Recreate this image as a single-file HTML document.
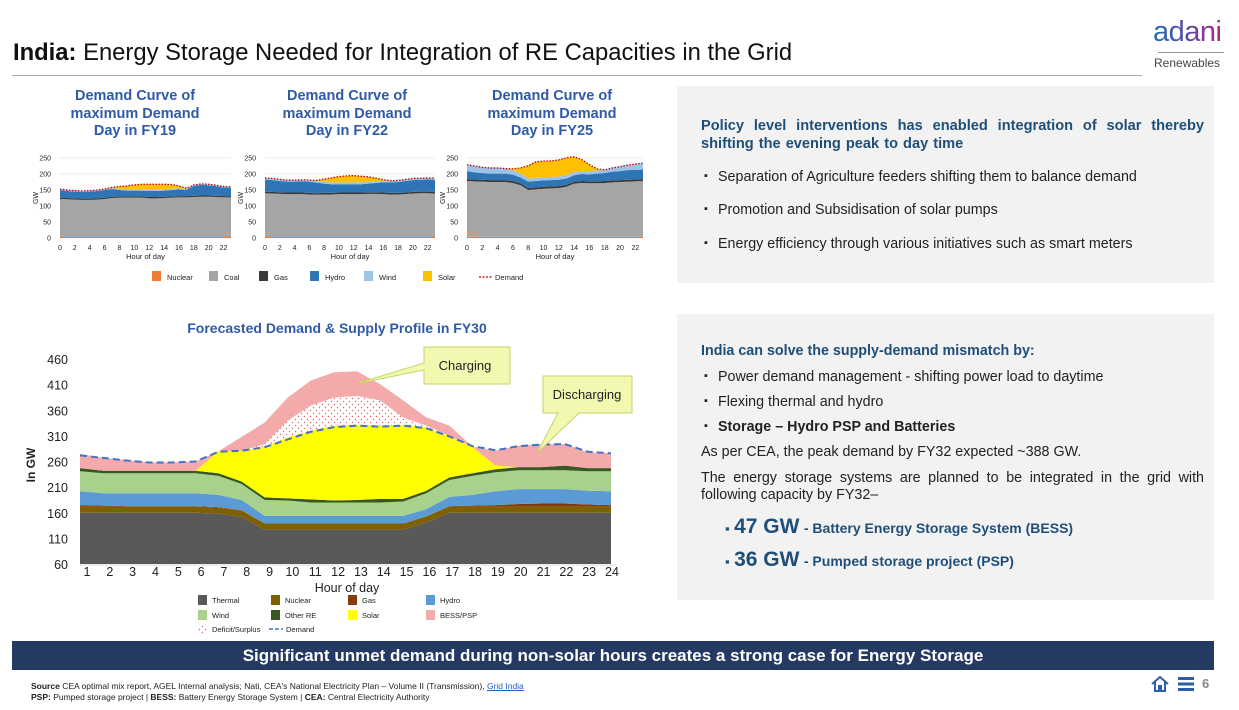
<!DOCTYPE html>
<html><head><meta charset="utf-8"><style>
*{margin:0;padding:0;box-sizing:border-box}
body{width:1239px;height:710px;background:#fff;font-family:"Liberation Sans",sans-serif;position:relative;overflow:hidden;color:#222}
.abs{position:absolute}
.panel{position:absolute;background:#f2f2f2}
.bh{color:#1f4e79;font-weight:bold;font-size:14px}
.txt{font-size:14.3px;color:#222;position:absolute;left:24px;right:10px}
.bul{position:absolute;left:29px;font-size:14.3px;color:#222}
.bul::before{content:"▪";position:absolute;left:-2px;font-size:11px;top:1px}
.bul span{margin-left:12px}
.ctitle{position:absolute;color:#2e5aa8;font-weight:bold;font-size:14.5px;text-align:center;line-height:17.5px;width:200px}
</style></head><body>
<div class="abs" style="left:13px;top:39px;font-size:23.8px;color:#111"><b>India:</b> Energy Storage Needed for Integration of RE Capacities in the Grid</div>
<div class="abs" style="left:12px;top:75px;width:1130px;height:1px;background:#aaa"></div>
<div class="abs" style="left:1153px;top:16px;font-size:29px;letter-spacing:-0.5px;background:linear-gradient(90deg,#1c6fb5,#5a4aa8,#b0287e);-webkit-background-clip:text;color:transparent">adani</div>
<div class="abs" style="left:1158px;top:52px;width:66px;height:1px;background:#999"></div>
<div class="abs" style="left:1154px;top:56px;font-size:12px;color:#444">Renewables</div>

<div class="ctitle" style="left:35px;top:88px">Demand Curve of<br>maximum Demand<br>Day in FY19</div>
<div class="ctitle" style="left:247px;top:88px">Demand Curve of<br>maximum Demand<br>Day in FY22</div>
<div class="ctitle" style="left:452px;top:88px">Demand Curve of<br>maximum Demand<br>Day in FY25</div>

<svg id="small" class="abs" style="left:0;top:150px" width="660" height="140"></svg>

<div class="abs" style="left:130px;top:320px;width:414px;text-align:center;color:#2e5aa8;font-weight:bold;font-size:14px">Forecasted Demand &amp; Supply Profile in FY30</div>
<svg id="main" class="abs" style="left:0;top:340px" width="660" height="300"></svg>

<div class="panel" style="left:677px;top:86px;width:537px;height:197px">
 <div class="bh abs" style="left:24px;top:31px;right:10px;font-size:14.6px;text-align:justify;text-align-last:left;line-height:18px;word-spacing:1px">Policy level interventions has enabled integration of solar thereby shifting the evening peak to day time</div>
 <div class="bul" style="top:83px"><span>Separation of Agriculture feeders shifting them to balance demand</span></div>
 <div class="bul" style="top:116px"><span>Promotion and Subsidisation of solar pumps</span></div>
 <div class="bul" style="top:150px"><span>Energy efficiency through various initiatives such as smart meters</span></div>
</div>
<div class="panel" style="left:677px;top:314px;width:537px;height:286px">
 <div class="bh abs" style="left:24px;top:29px;font-size:14.3px">India can solve the supply-demand mismatch by:</div>
 <div class="bul" style="top:55px"><span>Power demand management - shifting power load to daytime</span></div>
 <div class="bul" style="top:80px"><span>Flexing thermal and hydro</span></div>
 <div class="bul" style="top:105px"><span><b>Storage – Hydro PSP and Batteries</b></span></div>
 <div class="txt" style="top:130px">As per CEA, the peak demand by FY32 expected ~388 GW.</div>
 <div class="txt" style="top:156px;text-align:justify;text-align-last:left;line-height:17px">The energy storage systems are planned to be integrated in the grid with following capacity by FY32–</div>
 <div class="abs" style="left:48px;top:201px;color:#1f4e79;font-weight:bold"><span style="font-size:13px">▪</span>&nbsp;<span style="font-size:21px">47 GW</span> <span style="font-size:14px">- Battery Energy Storage System (BESS)</span></div>
 <div class="abs" style="left:48px;top:234px;color:#1f4e79;font-weight:bold"><span style="font-size:13px">▪</span>&nbsp;<span style="font-size:21px">36 GW</span> <span style="font-size:14px">- Pumped storage project (PSP)</span></div>
</div>

<div class="abs" style="left:12px;top:641px;width:1202px;height:29px;background:#253a63;color:#fff;font-weight:bold;font-size:17px;text-align:center;line-height:29px">Significant unmet demand during non-solar hours creates a strong case for Energy Storage</div>
<div class="abs" style="left:31px;top:681px;font-size:8.5px;color:#222"><b>Source</b> CEA optimal mix report, AGEL Internal analysis; Nati, CEA's National Electricity Plan – Volume II (Transmission), <span style="color:#1f5fbf;text-decoration:underline">Grid India</span></div>
<div class="abs" style="left:31px;top:692px;font-size:8.5px;color:#222"><b>PSP:</b> Pumped storage project | <b>BESS:</b> Battery Energy Storage System | <b>CEA:</b> Central Electricity Authority</div>
<svg class="abs" style="left:1151px;top:676px" width="18" height="16"><path d="M1 8 L9 1 L17 8 M4 6 V15 H8 V10 H10 V15 H14 V6" fill="none" stroke="#2d5fa8" stroke-width="2"/></svg>
<svg class="abs" style="left:1178px;top:677px" width="16" height="14"><rect y="0" width="16" height="3" fill="#2d5fa8"/><rect y="5.5" width="16" height="3" fill="#2d5fa8"/><rect y="11" width="16" height="3" fill="#2d5fa8"/></svg>
<div class="abs" style="left:1202px;top:676px;font-size:13px;font-weight:bold;color:#888">6</div>

<script>
// ---- small charts data ----
const smallHours=[0,1,2,3,4,5,6,7,8,9,10,11,12,13,14,15,16,17,18,19,20,21,22,23];
const smallTicksY=[0,50,100,150,200,250];
const smallTicksX=[0,2,4,6,8,10,12,14,16,18,20,22];
const fy19Nuclear=[3,3,3,3,3,3,3,3,3,3,3,3,3,3,3,3,3,3,3,3,3,3,3,3];
const fy19Coal=[119,118,117,116,116,117,119,122,123,123,123,123,121,121,122,123,124,124,125,126,126,125,124,124];
const fy19Gas=[4,4,4,4,4,4,4,4,4,4,4,4,4,4,4,4,4,4,4,4,4,4,4,4];
const fy19Hydro=[24,22,21,21,22,23,24,24,20,18,18,18,19,19,19,20,21,19,31,33,32,30,27,26];
const fy19Wind=[3,3,3,3,3,3,3,3,3,3,3,3,3,3,3,3,3,3,3,3,3,3,3,3];
const fy19Solar=[0,0,0,0,0,0,0,2,8,12,15,17,18,18,17,14,8,2,0,0,0,0,0,0];
const fy22Nuclear=[3,3,3,3,3,3,3,3,3,3,3,3,3,3,3,3,3,3,3,3,3,3,3,3];
const fy22Coal=[137,136,135,134,134,134,133,132,133,133,134,134,134,134,135,135,134,133,133,134,136,137,137,136];
const fy22Gas=[5,5,5,5,5,5,5,5,5,5,5,5,5,5,5,5,5,5,5,5,5,5,5,5];
const fy22Hydro=[38,37,35,34,34,35,35,33,29,27,26,26,26,26,27,29,32,33,34,36,37,37,38,38];
const fy22Wind=[5,5,5,5,5,5,5,5,6,6,6,6,6,6,6,6,5,5,5,5,5,5,5,5];
const fy22Solar=[0,0,0,0,0,0,0,2,8,14,18,20,21,19,15,9,3,0,0,0,0,0,0,0];
const fy25Nuclear=[4,4,4,4,4,4,4,4,4,4,4,4,4,4,4,4,4,4,4,4,4,4,4,4];
const fy25Coal=[174,173,172,171,171,171,168,161,146,148,150,151,152,156,166,168,167,167,168,170,171,172,173,174];
const fy25Gas=[6,6,6,6,6,6,6,6,6,6,6,6,6,6,6,6,6,6,6,6,6,6,6,6];
const fy25Hydro=[25,22,21,20,20,20,20,18,20,20,20,20,20,20,20,22,22,24,25,27,28,30,30,30];
const fy25Wind=[20,20,18,18,18,16,14,12,10,10,10,10,10,10,10,10,10,10,10,12,14,16,18,20];
const fy25Solar=[0,0,0,0,0,0,4,18,40,50,50,50,52,55,48,35,20,5,0,0,0,0,0,0];
const smallColors=['#ed7d31','#a5a5a5','#3a3a3a','#2e75b6','#9dc3e6','#ffc000'];
const smallLegend=['Nuclear','Coal','Gas','Hydro','Wind','Solar'];

// ---- main chart data ----
const hours=[1,2,3,4,5,6,7,8,9,10,11,12,13,14,15,16,17,18,19,20,21,22,23,24];
const mainTicksY=[60,110,160,210,260,310,360,410,460];
const thermal=[160,160,160,160,160,160,158,152,127,127,127,127,127,127,127,141,160,160,160,160,160,160,160,160];
const nuclear=[12,12,12,12,12,12,12,12,12,12,12,12,12,12,12,12,12,12,12,12,12,12,12,12];
const gas=[3,2,1,1,1,1,1,1,0,0,0,0,0,0,0,0,1,2,3,5,6,6,4,3];
const hydro=[27,24,25,25,25,25,24,20,15,15,15,15,15,15,15,14,18,21,27,29,28,28,27,27];
const wind=[39,39,39,39,39,39,37,31,31,30,26,26,26,26,28,31,33,37,37,37,37,37,38,39];
const otherRE=[6,5,5,5,5,5,5,5,5,4,6,4,5,7,5,5,5,5,6,6,6,9,6,6];
const solar=[0,0,0,0,0,0,43,60,99,119,134,146,147,143,144,124,81,51,7,0,0,0,0,0];
const surplus=[0,0,0,0,0,0,0,0,5,33,49,55,56,49,15,3,0,0,0,0,0,0,0,0];
const bess=[28,25,21,16,16,18,0,27,42,45,49,49,48,32,33,16,20,1,29,42,45,42,31,29];
const demand=[272,267,262,258,258,260,279,281,288,303,318,327,330,328,330,325,309,290,282,290,293,294,279,276];

const NS='http://www.w3.org/2000/svg';
function mk(parent,tag,attrs){const e=document.createElementNS(NS,tag);for(const k in attrs)e.setAttribute(k,attrs[k]);parent.appendChild(e);return e;}
function txt(parent,x,y,s,size,anchor,extra){const t=mk(parent,'text',Object.assign({x:x,y:y,'font-size':size,'text-anchor':anchor||'middle','font-family':'Liberation Sans, sans-serif',fill:'#222'},extra||{}));t.textContent=s;return t;}

// small charts
const small=document.getElementById('small');
function drawSmall(x0,x1,layers,name){
  const yB=88,yT=8;
  const xs=h=>x0+(h-smallHours[0])/(smallHours[smallHours.length-1]-smallHours[0])*(x1-x0);
  const ys=v=>yB-v/250*(yB-yT);
  const g=mk(small,'g',{});
  
  
  smallTicksY.forEach(v=>{mk(g,'line',{x1:x0,x2:x1,y1:ys(v),y2:ys(v),stroke:'#e4e4e4','stroke-width':0.8});txt(g,x0-9,ys(v)+2.5,String(v),7,'end');});
  const cum=smallHours.map(()=>0);
  layers.forEach((arr,li)=>{
    const lo=cum.slice();arr.forEach((v,i)=>cum[i]+=v);
    let d='M'+smallHours.map((h,i)=>xs(h)+','+ys(cum[i])).join(' L');
    for(let i=smallHours.length-1;i>=0;i--)d+=' L'+xs(smallHours[i])+','+ys(lo[i]);
    const p=mk(g,'path',{d:d+'Z',fill:smallColors[li]});
    
    
  });
  const dl=mk(g,'polyline',{points:smallHours.map((h,i)=>xs(h)+','+ys(cum[i])).join(' '),fill:'none',stroke:'#c00000','stroke-width':1.3,'stroke-dasharray':'1.5,1.5'});
  
  
  smallTicksX.forEach(h=>txt(g,xs(h),100,String(h),7));
  txt(g,(x0+x1)/2,109,'Hour of day',7.5);
  txt(g,0,0,'GW',7,'middle',{transform:'translate('+(x0-22)+','+ys(125)+') rotate(-90)'});
}
drawSmall(60,231,[fy19Nuclear,fy19Coal,fy19Gas,fy19Hydro,fy19Wind,fy19Solar],'fy19-chart');
drawSmall(265,435,[fy22Nuclear,fy22Coal,fy22Gas,fy22Hydro,fy22Wind,fy22Solar],'fy22-chart');
drawSmall(467,643,[fy25Nuclear,fy25Coal,fy25Gas,fy25Hydro,fy25Wind,fy25Solar],'fy25-chart');
const legX=[152,209,259,310,364,423];
smallLegend.forEach((n,i)=>{
  const r=mk(small,'rect',{x:legX[i],y:121,width:9,height:10,fill:smallColors[i]});
  
  
  txt(small,legX[i]+15,130,n,7.5,'start');
});
mk(small,'line',{x1:479,x2:492,y1:127,y2:127,stroke:'#c00000','stroke-width':1.2,'stroke-dasharray':'2,1.5'});
txt(small,495,130,'Demand',7.5,'start');

// main chart
const main=document.getElementById('main');
const pat=mk(main,'defs',{});
const pt=mk(pat,'pattern',{id:'dots',width:6,height:6,patternUnits:'userSpaceOnUse'});
mk(pt,'rect',{width:6,height:6,fill:'#fff'});
mk(pt,'circle',{cx:1.5,cy:1.5,r:0.7,fill:'#e06666'});
mk(pt,'circle',{cx:4.5,cy:4.5,r:0.7,fill:'#e06666'});
const MX0=80,MX1=611,MYB=224,MYT=19;
const X=h=>MX0+(h-hours[0])/(hours[hours.length-1]-hours[0])*(MX1-MX0);
const XL=h=>87+(h-hours[0])/(hours[hours.length-1]-hours[0])*(612-87);
const Y=v=>MYB-(v-mainTicksY[0])/(mainTicksY[mainTicksY.length-1]-mainTicksY[0])*(MYB-MYT);
mainTicksY.forEach(v=>txt(main,68,Y(v)+5,String(v),12.5,'end'));
hours.forEach(h=>txt(main,XL(h),236,String(h),12.5));
txt(main,347,252,'Hour of day',12.5);
txt(main,0,0,'In GW',12,'middle',{'font-weight':'bold',transform:'translate(35,125) rotate(-90)'});
const mainLayers=[['thermal',thermal,'#595959'],['nuclear',nuclear,'#7f6000'],['gas',gas,'#843c0c'],['hydro',hydro,'#5b9bd5'],['wind',wind,'#a9d18e'],['other-re',otherRE,'#385723'],['solar',solar,'#ffff00'],['surplus',surplus,'url(#dots)'],['bess-psp',bess,'#f4aaaa']];
const cumM=hours.map(()=>0);
mainLayers.forEach(([n,arr,c])=>{
  const lo=n==='thermal'?hours.map(()=>mainTicksY[0]):cumM.slice();
  arr.forEach((v,i)=>cumM[i]+=v);
  let d='M'+hours.map((h,i)=>X(h)+','+Y(cumM[i])).join(' L');
  for(let i=hours.length-1;i>=0;i--)d+=' L'+X(hours[i])+','+Y(lo[i]);
  const p=mk(main,'path',{d:d+'Z',fill:c});
  
  
});
const dem=mk(main,'polyline',{points:hours.map((h,i)=>X(h)+','+Y(demand[i])).join(' '),fill:'none',stroke:'#4472c4','stroke-width':2,'stroke-dasharray':'7,4'});


mk(main,'line',{x1:MX0,x2:MX1+5,y1:MYB+1,y2:MYB+1,stroke:'#d9d9d9'});
// callouts
const c1=mk(main,'path',{d:'M424,7 H510 V44 H424 V30 L355,44 L424,23 Z',fill:'#f2f8b0',stroke:'#c6d66a','stroke-width':1});


txt(main,465,30,'Charging',13);
const c2=mk(main,'path',{d:'M543,36 H632 V73 H579 L537,113 L558,73 H543 Z',fill:'#f2f8b0',stroke:'#c6d66a','stroke-width':1});


txt(main,587,59,'Discharging',13);
// big legend
const bigLeg=[['Thermal','#595959',198,255],['Nuclear','#7f6000',271,255],['Gas','#843c0c',348,255],['Hydro','#5b9bd5',426,255],['Wind','#a9d18e',198,270],['Other RE','#385723',271,270],['Solar','#ffff00',348,270],['BESS/PSP','#f4aaaa',426,270],['Deficit/Surplus','url(#dots)',198,284]];
bigLeg.forEach(([n,c,x,y])=>{
  const r=mk(main,'rect',{x:x,y:y,width:9,height:10,fill:c});
  
  
  txt(main,x+14,y+8,n,7.5,'start');
});
mk(main,'line',{x1:269,x2:283,y1:289,y2:289,stroke:'#4472c4','stroke-width':1.5,'stroke-dasharray':'4,2'});
txt(main,286,292,'Demand',7.5,'start');
</script>
</body></html>
